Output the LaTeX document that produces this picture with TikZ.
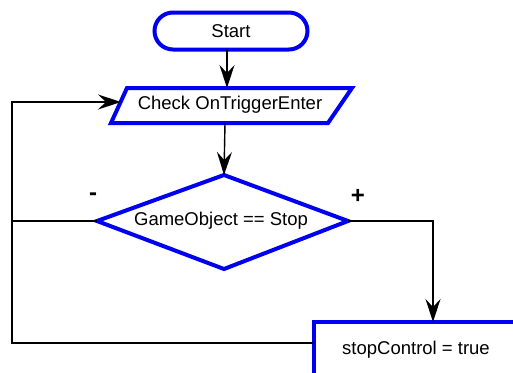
\documentclass[tikz,border=0pt]{standalone}
\usepackage{fontspec}
\setmainfont{Liberation Sans}
\usetikzlibrary{arrows.meta,shapes.geometric,shapes.misc}
\definecolor{fcblue}{RGB}{0,0,240}
\tikzset{
  shapeline/.style={draw=fcblue, line width=4pt, fill=white},
  txt/.style={font=\fontsize{18.5}{21}\selectfont, inner sep=0pt},
  conn/.style={draw=black, line width=1.4pt},
  arr/.style={conn, -{Stealth[length=23pt,width=15pt,inset=8pt]}},
  lbl/.style={font=\fontsize{24}{26}\selectfont\bfseries, inner sep=0pt}
}
\begin{document}
\begin{tikzpicture}[x=1pt,y=-1pt]
\useasboundingbox (0,0) rectangle (513,372);
\clip (0,0) rectangle (513,372);
% Start
\node[shapeline, txt, rounded rectangle, minimum width=153pt, minimum height=37pt] (start) at (231,31) {Start};
% Parallelogram
\coordinate (p1) at (127,88);
\coordinate (p2) at (352,88);
\coordinate (p3) at (328,123);
\coordinate (p4) at (111,123);
\draw[shapeline] (p1) -- (p2) -- (p3) -- (p4) -- cycle;
\node[txt] (check) at (230,105) {Check OnTriggerEnter};
% Diamond
\coordinate (dt) at (224,175);
\coordinate (dr) at (348,221);
\coordinate (db) at (224,269);
\coordinate (dl) at (97,221);
\draw[shapeline] (dt) -- (dr) -- (db) -- (dl) -- cycle;
\node[txt] (dec) at (221,221) {GameObject == Stop};
% Box
\draw[shapeline] (314,322) rectangle (540,400);
\node[txt] (stop) at (416,350) {stopControl = true};
\coordinate (bl) at (314,343);
\coordinate (bt) at (433,322);
% labels
\node[lbl] (minus) at (93,197) {-};
\node[lbl] (plus) at (358,196) {+};
% connectors
\coordinate (s1) at (227,49);
\coordinate (s2) at (227,88);
\draw[arr] (s1) -- (s2);
\coordinate (c1) at (225,123);
\draw[arr] (c1) -- (dt);
\coordinate (pl) at (121,102);
\draw[arr] (dl) -- (12,221) |- (pl);
\draw[conn] (bl) -- (12,343) -- (12,221);
\draw[arr] (dr) -| (bt);
\end{tikzpicture}
\end{document}
